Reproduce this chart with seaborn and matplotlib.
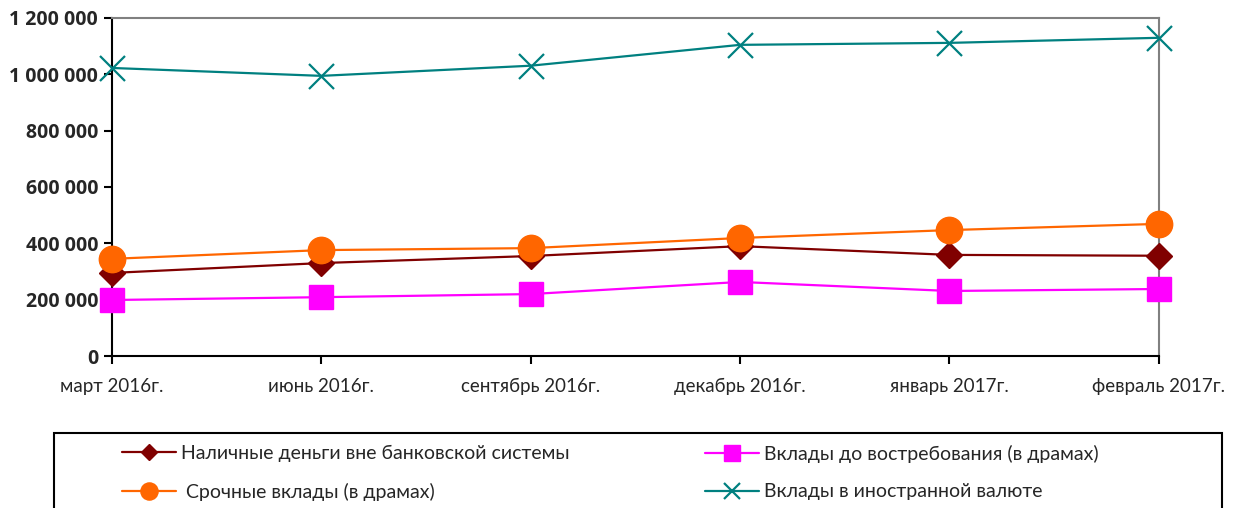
#!/usr/bin/env python3
# -*- coding: utf-8 -*-
"""Денежная масса по компонентам, март 2016 — февраль 2017."""

import pandas as pd
import matplotlib.pyplot as plt
import seaborn as sns
from matplotlib.patches import Rectangle
from matplotlib.ticker import FuncFormatter, MultipleLocator

# данные
months = ['март 2016г.', 'июнь 2016г.', 'сентябрь 2016г.',
          'декабрь 2016г.', 'январь 2017г.', 'февраль 2017г.']
cash = [295000, 330000, 355000, 390000, 359000, 356000]
demand = [199000, 209000, 220000, 263000, 231000, 238000]
term = [345000, 376000, 383000, 419000, 447000, 469000]
foreign = [1022000, 994000, 1030000, 1104000, 1111000, 1129000]

series_names = ['Наличные деньги вне банковской системы',
                'Вклады до востребования (в драмах)',
                ' Срочные вклады (в драмах)',
                'Вклады в иностранной валюте']

sns.set_style('ticks')
plt.rcParams['font.family'] = ['Lato', 'DejaVu Sans']

df = pd.DataFrame({'pos': range(len(months)), 'month': months,
                   'cash': cash, 'demand': demand,
                   'term': term, 'foreign': foreign})

styles = [
    ('cash', '#800000', 'D', 13, 1.0),
    ('demand', '#ff00ff', 's', 17, 1.0),
    ('term', '#ff6600', 'o', 19, 1.0),
    ('foreign', '#008080', 'x', 18, 1.6),
]

fig = plt.figure(figsize=(12.33, 5.08), dpi=100)
ax = fig.add_axes([0.0908, 0.299, 0.849, 0.666])

handles = []
for (col, color, marker, ms, mew), name in zip(styles, series_names):
    sns.lineplot(data=df, x='pos', y=col, ax=ax, color=color, lw=1.6,
                 marker=marker, markersize=ms, markeredgewidth=mew,
                 markeredgecolor=color, label=name, legend=False,
                 clip_on=False, zorder=3)
    handles.append(ax.lines[-1])

ax.set_xlim(0, len(months) - 1)
ax.set_ylim(0, 1200000)
ax.yaxis.set_major_locator(MultipleLocator(200000))
ax.yaxis.set_major_formatter(FuncFormatter(lambda v, p: f'{int(v):,}'.replace(',', ' ')))
ax.set_xticks(df['pos'])
ax.set_xticklabels(months, fontsize=13.5)
for lbl in ax.get_yticklabels():
    lbl.set_fontweight('bold')
    lbl.set_fontsize(14)
    lbl.set_family(['Open Sans', 'DejaVu Sans'])
ax.tick_params(axis='both', direction='out', length=6, width=1.5, color='black')
ax.tick_params(axis='x', pad=10)
ax.tick_params(axis='y', pad=4)
ax.set_xlabel('')
ax.set_ylabel('')

for side in ['left', 'bottom']:
    ax.spines[side].set_color('black')
    ax.spines[side].set_linewidth(1.5)
for side in ['top', 'right']:
    ax.spines[side].set_color('#808080')
    ax.spines[side].set_linewidth(1.5)

# рамка легенды (нижний край за пределами рисунка)
fig.patches.append(Rectangle((54 / 1233, -0.1), 1168 / 1233, 0.1 + 1 - 433 / 508,
                             transform=fig.transFigure, fill=False,
                             edgecolor='black', lw=1.5))

leg_kw = dict(loc='upper left', ncol=1, frameon=False, handlelength=2.8,
              handletextpad=0.25, borderpad=0, borderaxespad=0,
              labelspacing=1.05, markerscale=0.65, prop={'size': 14})
fig.legend([handles[0], handles[2]], [series_names[0], series_names[2]],
           bbox_to_anchor=(122 / 1233, 1 - 445 / 508), **leg_kw)
fig.legend([handles[1], handles[3]], [series_names[1], series_names[3]],
           bbox_to_anchor=(705 / 1233, 1 - 445 / 508), **leg_kw)

fig.savefig('out.png', dpi=100)
